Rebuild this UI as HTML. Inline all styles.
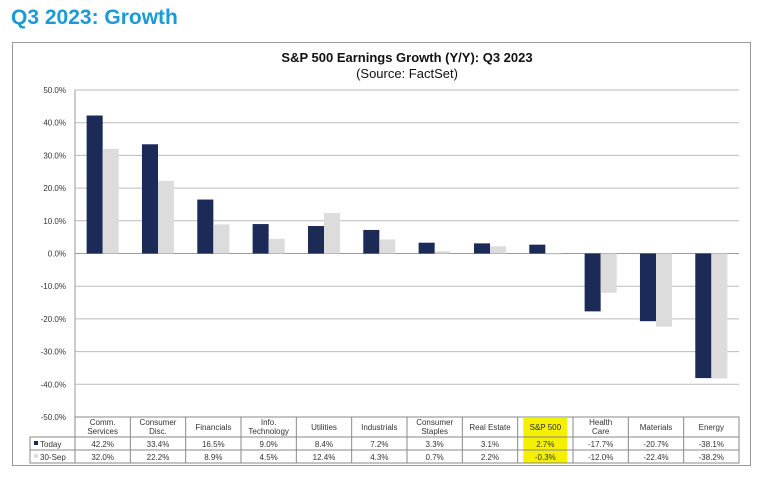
<!DOCTYPE html>
<html><head><meta charset="utf-8"><style>
body{margin:0;background:#fff;width:764px;height:475px;overflow:hidden;font-family:"Liberation Sans",sans-serif}
</style></head><body>
<svg width="764" height="475" xmlns="http://www.w3.org/2000/svg">
<text x="11" y="24" font-size="21" font-weight="bold" fill="#1a9bd7">Q3 2023: Growth</text>
<rect x="12.5" y="42.5" width="738" height="423" fill="#fff" stroke="#999"/>
<text x="407" y="62" font-size="13" font-weight="bold" text-anchor="middle" fill="#111">S&amp;P 500 Earnings Growth (Y/Y): Q3 2023</text>
<text x="407" y="78" font-size="13" text-anchor="middle" fill="#111">(Source: FactSet)</text>
<g id="grid"></g><g id="bars"></g><g id="table"></g>
</svg>
<script>
const categories=[["Comm.","Services"],["Consumer","Disc."],["Financials"],["Info.","Technology"],["Utilities"],["Industrials"],["Consumer","Staples"],["Real Estate"],["S&P 500"],["Health","Care"],["Materials"],["Energy"]];
const todayVals=[42.2,33.4,16.5,9.0,8.4,7.2,3.3,3.1,2.7,-17.7,-20.7,-38.1];
const sepVals=[32.0,22.2,8.9,4.5,12.4,4.3,0.7,2.2,-0.3,-12.0,-22.4,-38.2];
const ticks=[50,40,30,20,10,0,-10,-20,-30,-40,-50];
const NS="http://www.w3.org/2000/svg";
const L=75,R=739,T=90,B=417;
const cw=(R-L)/categories.length;
const y=v=>T+(50-v)/100*(B-T);
const x=i=>L+i*cw;
function mk(tag,at,parent){const e=document.createElementNS(NS,tag);for(const k in at)e.setAttribute(k,at[k]);document.getElementById(parent).appendChild(e);return e;}
ticks.forEach(t=>{
 const l=mk('line',{x1:L,x2:R,y1:y(t),y2:y(t),stroke:t==0?'#999':'#bbb','stroke-width':1},'grid');
 
 
 const tx=mk('text',{x:L-9,y:y(t)+3,'font-size':8,'text-anchor':'end',fill:'#333'},'grid');
 tx.textContent=t.toFixed(1)+'%';
 
 
});
mk('line',{x1:L,x2:L,y1:T,y2:B,stroke:'#999'},'grid');
const bw=cw*0.29;
categories.forEach((c,i)=>{
 const cx=x(i)+cw/2;
 const a=todayVals[i],b=sepVals[i];
 const r1=mk('rect',{x:cx-bw,width:bw,y:Math.min(y(a),y(0)),height:Math.abs(y(a)-y(0)),fill:'#1c2a57'},'bars');
 
 
 const r2=mk('rect',{x:cx,width:bw,y:Math.min(y(b),y(0)),height:Math.abs(y(b)-y(0)),fill:'#dcdcdc'},'bars');
 
 
});
// table
const rowY=[417,437,450,463];
if(true){
 const hl=mk('rect',{x:x(8)+cw/2-22,y:418,width:44,height:45,fill:'#f5f000'},'table');
 
 
}
mk('rect',{x:L,y:417,width:R-L,height:46,fill:'none',stroke:'#888'},'table');
mk('rect',{x:30,y:437,width:L-30,height:26,fill:'none',stroke:'#888'},'table');
[437,450].forEach(v=>mk('line',{x1:30,x2:R,y1:v,y2:v,stroke:'#888'},'table'));
categories.forEach((c,i)=>{
 if(i>0)mk('line',{x1:x(i),x2:x(i),y1:417,y2:463,stroke:'#888'},'table');
 const cx=x(i)+cw/2;
 c.forEach((s,j)=>{
  const t=mk('text',{x:cx,y:(c.length==1?430:425)+j*9,'font-size':8,'text-anchor':'middle',fill:i==8?'#1c2a57':'#333'},'table');
  t.textContent=s;
  
  
 });
 const t1=mk('text',{x:cx,y:447,'font-size':8,'text-anchor':'middle',fill:'#333'},'table');
 t1.textContent=todayVals[i].toFixed(1)+'%';
 
 
 const t2=mk('text',{x:cx,y:460,'font-size':8,'text-anchor':'middle',fill:'#333'},'table');
 t2.textContent=sepVals[i].toFixed(1)+'%';
 
 
});
mk('rect',{x:34,y:441,width:4,height:4,fill:'#1c2a57'},'table');
mk('rect',{x:34,y:454,width:4,height:4,fill:'#dcdcdc'},'table');
const lg1=mk('text',{x:40,y:447,'font-size':8,fill:'#333'},'table');lg1.textContent='Today';


const lg2=mk('text',{x:40,y:460,'font-size':8,fill:'#333'},'table');lg2.textContent='30-Sep';


</script>
</body></html>
